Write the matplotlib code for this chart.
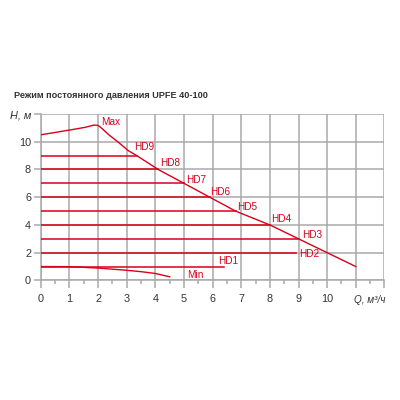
import matplotlib
matplotlib.use("Agg")
import matplotlib.pyplot as plt
from matplotlib.ticker import MultipleLocator

# ---- data ----
max_q = [0, 1.0, 1.55, 1.85, 2.0, 2.13, 2.36, 2.71, 3.06, 3.35, 4.1, 5.0, 5.9, 6.8, 8.0, 9.0, 10.0, 11.0]
max_h = [10.5, 10.84, 11.04, 11.2, 11.18, 10.97, 10.53, 9.96, 9.35, 9.0, 8.0, 7.0, 6.0, 5.0, 4.0, 3.0, 2.0, 1.0]
min_q = [0, 1.0, 2.0, 3.0, 3.5, 4.0, 4.5]
min_h = [1.0, 0.99, 0.89, 0.73, 0.63, 0.5, 0.26]
hd_levels = [1, 2, 3, 4, 5, 6, 7, 8, 9]
hd_ends = [6.4, 8.9, 9.0, 8.0, 6.8, 5.9, 5.0, 4.1, 3.35]
hd_names = ["HD1", "HD2", "HD3", "HD4", "HD5", "HD6", "HD7", "HD8", "HD9"]
label_q = [6.19, 9.03, 9.11, 8.04, 6.87, 5.92, 5.08, 4.17, 3.27]
label_h = [1.39, 1.9, 3.27, 4.42, 5.31, 6.39, 7.24, 8.46, 9.62]
x_ticks = [0, 1, 2, 3, 4, 5, 6, 7, 8, 9, 10]
y_ticks = [0, 2, 4, 6, 8, 10, 12]
y_tick_labels = ["0", "2", "4", "6", "8", "10", "H, м"]
title = "Режим постоянного давления UPFE 40-100"

RED = "#d9001a"
GRID = "#a9a9a9"
TXT = "#333333"
plt.rcParams['font.family'] = ['Liberation Sans', 'DejaVu Sans']

fig = plt.figure(figsize=(4, 4), dpi=100)
ax = fig.add_axes([0.102, 0.299, 0.859, 0.416])
ax.set_xlim(0, 12)
ax.set_ylim(0, 12)

# grid
ax.xaxis.set_minor_locator(MultipleLocator(0.5))
ax.grid(True, which='major', color=GRID, lw=1.1)
ax.set_axisbelow(True)
for s in ['top', 'right']:
    ax.spines[s].set_visible(False)
for s in ['left', 'bottom']:
    ax.spines[s].set_color(GRID)
    ax.spines[s].set_linewidth(1.1)

ax.set_xticks(list(range(0, 13)))
ax.set_xticklabels([str(v) if v in x_ticks else "" for v in range(0, 13)])
ax.set_yticks(y_ticks)
ax.set_yticklabels(y_tick_labels)
for lab in ax.get_yticklabels():
    if lab.get_text().startswith("H"):
        lab.set_fontstyle('italic')
ax.tick_params(axis='x', which='major', length=6, width=1.1, color=GRID, pad=4,
               labelsize=7.8, labelcolor=TXT)
ax.tick_params(axis='x', which='minor', length=3, width=1.1, color=GRID)
ax.tick_params(axis='y', which='major', length=5, width=1.1, color=GRID, pad=2,
               labelsize=7.8, labelcolor=TXT)

# curves
ax.plot(max_q, max_h, color=RED, lw=1.0, zorder=3)
ax.plot(min_q, min_h, color=RED, lw=1.0, zorder=3)
for lvl, end in zip(hd_levels, hd_ends):
    ax.plot([0, end], [lvl, lvl], color=RED, lw=1.1, zorder=3)

fs = 7.2
ax.text(2.11, 11.42, "Max", color=RED, fontsize=fs, va='center', ha='left')
for name, q, h in zip(hd_names, label_q, label_h):
    ax.text(q, h, name, color=RED, fontsize=fs, va='center', ha='left')
ax.text(5.1, 0.36, "Min", color=RED, fontsize=fs, va='center', ha='left')

ax.annotate("Q, м³/ч", xy=(12.05, 0), xycoords='data', xytext=(0, -14),
            textcoords='offset points', fontsize=7.2, fontstyle='italic',
            color=TXT, ha='right', va='center', annotation_clip=False)
fig.text(0.035, 0.76, title, fontsize=6.6, fontweight='bold', color=TXT, ha='left', va='center')

fig.savefig("out.png", dpi=100)
